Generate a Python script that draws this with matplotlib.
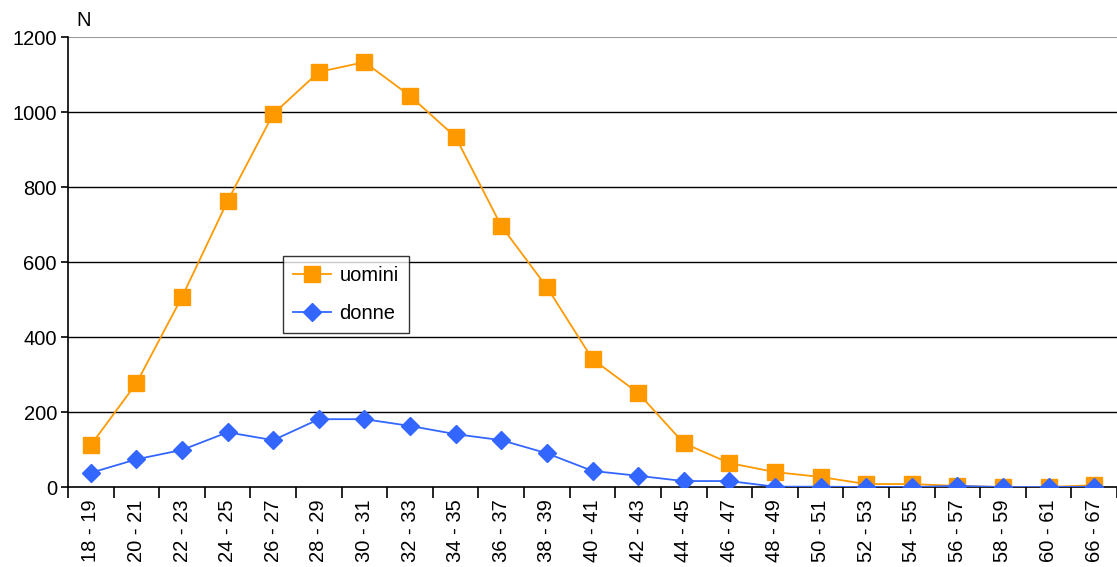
import matplotlib.pyplot as plt

plt.rcParams['font.family'] = ['Liberation Sans', 'DejaVu Sans']

# classi di età
categorie = ["18 - 19", "20 - 21", "22 - 23", "24 - 25", "26 - 27", "28 - 29",
             "30 - 31", "32 - 33", "34 - 35", "36 - 37", "38 - 39", "40 - 41",
             "42 - 43", "44 - 45", "46 - 47", "48 - 49", "50 - 51", "52 - 53",
             "54 - 55", "56 - 57", "58 - 59", "60 - 61", "66 - 67"]
uomini = [112, 277, 507, 763, 995, 1107, 1133, 1043, 933, 696, 533, 341,
          251, 117, 64, 40, 27, 8, 8, 3, 0, 0, 5]
donne = [38, 74, 99, 146, 125, 181, 181, 163, 141, 125, 90, 43,
         30, 16, 16, 1, 1, 0, 0, 3, 0, 0, 1]

fig = plt.figure(figsize=(11.17, 5.67), dpi=100)
ax = fig.add_axes([0.0609, 0.141, 0.9391, 0.7937])

x = list(range(len(categorie)))
ax.plot(x, uomini, color="#FF9900", lw=1.3, marker="s", ms=11.5,
        mec="#FF9900", label="uomini", zorder=3)
ax.plot(x, donne, color="#3366FF", lw=1.3, marker="D", ms=9,
        mec="#3366FF", label="donne", zorder=4)

ax.set_ylim(0, 1200)
ax.set_xlim(-0.5, 22.4)
ax.set_yticks(range(0, 1201, 200))
for v in range(200, 1001, 200):
    ax.axhline(v, color="black", lw=1, zorder=1)
ax.axhline(1200, color="#999999", lw=1.5, zorder=1)

fs = 14.5
ax.set_xticks(x)
ax.set_xticklabels(categorie, rotation=90, fontsize=fs)
ax.set_xticks([i - 0.5 for i in range(len(categorie) + 1)], minor=True)
ax.tick_params(axis="x", which="major", length=0, pad=9)
ax.tick_params(axis="x", which="minor", length=8, width=1.2, direction="out")
ax.tick_params(axis="y", labelsize=fs, length=5, width=1.2, pad=3)

for s in ["top", "right"]:
    ax.spines[s].set_visible(False)
ax.spines["left"].set_linewidth(1.2)
ax.spines["bottom"].set_linewidth(1.2)

ax.text(0.008, 1.015, "N", transform=ax.transAxes, fontsize=fs, va="bottom")

leg = ax.legend(loc="upper left", bbox_to_anchor=(0.205, 0.513), fontsize=fs,
                frameon=True, fancybox=False, edgecolor="black",
                handlelength=1.9, handletextpad=0.4, borderpad=0.5,
                labelspacing=0.95, borderaxespad=0)
leg.get_frame().set_linewidth(1)
leg.set_zorder(5)

plt.savefig("out.png")
